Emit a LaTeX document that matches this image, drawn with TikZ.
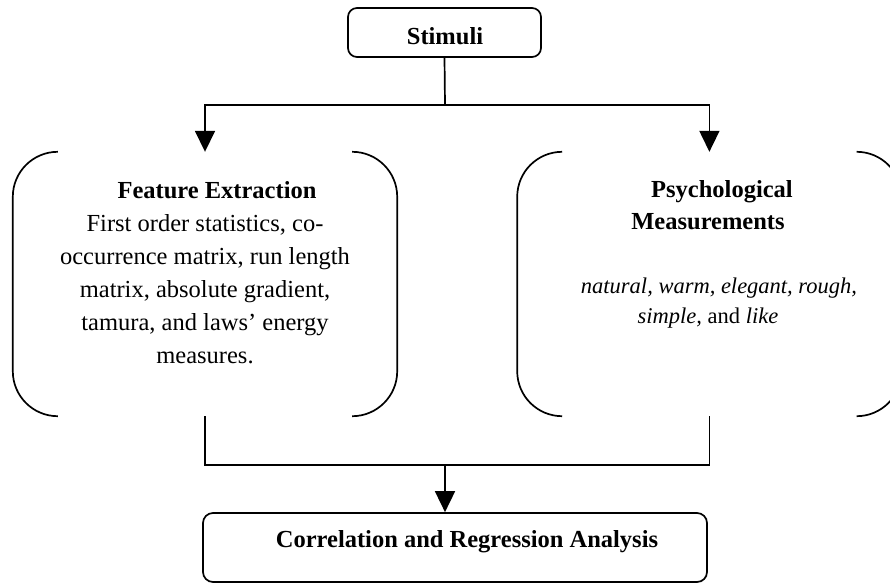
\documentclass[tikz,border=0pt]{standalone}
\usepackage{fontspec}
\setmainfont{Liberation Serif}
\usetikzlibrary{arrows.meta,positioning}
\definecolor{inkblack}{RGB}{0,0,0}
\tikzset{
  stagebox/.style={draw=inkblack,rounded corners=9pt,line width=1.7pt,
    inner sep=0pt},
  bracketbox/.style={inner sep=0pt,minimum width=384pt,minimum height=264pt},
  bracketside/.style={draw=inkblack,line width=1.7pt,rounded corners=45pt},
  flow/.style={-{Triangle[length=21pt,width=20pt]},line width=1.7pt,
    draw=inkblack},
  wire/.style={line width=1.7pt,draw=inkblack},
  bodytext/.style={font=\fontsize{24.5}{33}\selectfont,inner sep=0pt},
  itemtext/.style={font=\fontsize{22.5}{30}\selectfont,inner sep=0pt},
  headtext/.style={font=\fontsize{24.5}{33}\selectfont\bfseries,inner sep=0pt}
}

\begin{document}
\begin{tikzpicture}[x=1pt,y=-1pt]
  \useasboundingbox (0,0) rectangle (890,583);
  % boxes
  \node[stagebox,minimum width=193pt,minimum height=49pt] (stim) at (444.5,32.5) {};
  \node[headtext,anchor=base] (stimlabel) at (445,45) {Stimuli};
  \node[bracketbox] (feat) at (205,284) {};
  \node[bracketbox,right=120pt of feat] (psy) {};
  \node[stagebox,rounded corners=10pt,minimum width=504pt,minimum height=69pt]
    (corr) at (455,547.5) {};
  \node[headtext,anchor=base] (corrlabel) at (467,547)
    {Correlation and Regression Analysis};
  % bracket sides
  \foreach \bk in {feat,psy} {
    \draw[bracketside] ([xshift=45pt]\bk.north west) -- (\bk.north west)
      -- (\bk.south west) -- ([xshift=45pt]\bk.south west);
    \draw[bracketside] ([xshift=-45pt]\bk.north east) -- (\bk.north east)
      -- (\bk.south east) -- ([xshift=-45pt]\bk.south east);
  }
  % texts
  \node[headtext,anchor=base] (feathead) at (217,198) {Feature Extraction};
  \foreach \row/\txt in {231/{First order statistics, co-},
                         264/{occurrence matrix, run length},
                         297/{matrix, absolute gradient,},
                         330/{tamura, and laws’ energy}, 363/{measures.}}
    \node[bodytext,anchor=base] (featline\row) at (205,\row) {\txt};
  \node[headtext,anchor=base] (psyhead) at (722,197) {Psychological};
  \node[headtext,anchor=base] (psyhead2) at (708,229) {Measurements};
  \node[itemtext,anchor=base] (psyitems) at (719,293)
    {\textit{natural, warm, elegant, rough,}};
  \node[itemtext,anchor=base] (psyitems2) at (708,323)
    {\textit{simple,} and \textit{like}};
  % connectors
  \coordinate (split) at (445,105);
  \coordinate (join) at (445,465);
  \draw[wire] (stim.south) -- (split);
  \draw[flow] (split) -| (feat.north);
  \draw[flow] (split) -| (psy.north);
  \draw[wire] (feat.south) -- (feat.south |- join) -| (psy.south);
  \draw[flow] (join) -- (join |- corr.north);
\end{tikzpicture}
\end{document}
